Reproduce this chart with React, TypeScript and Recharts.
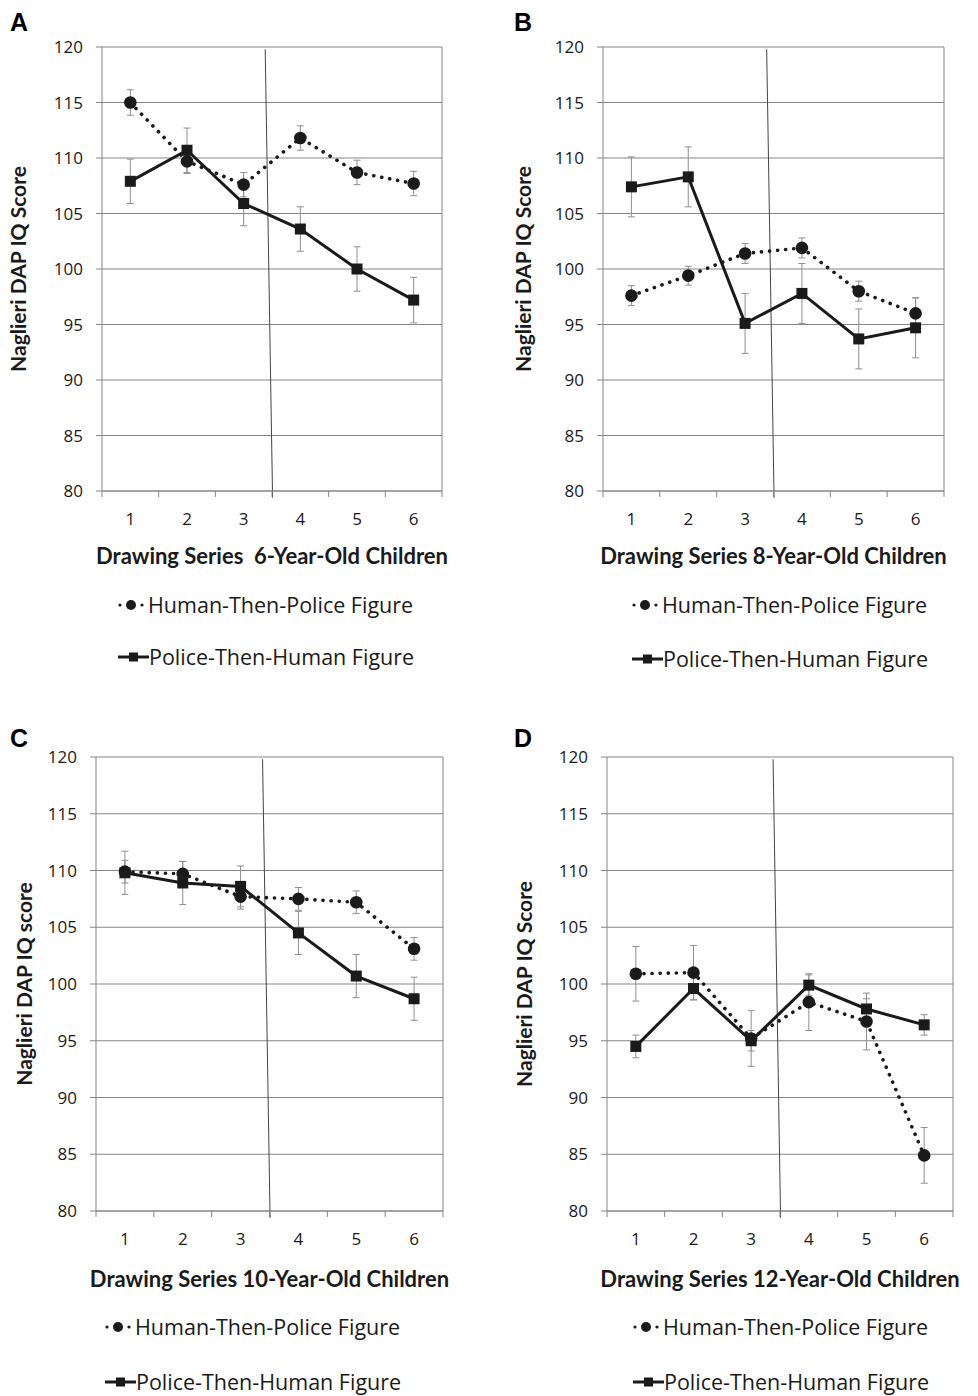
import React from "react";
import { LineChart, Line, XAxis, YAxis, CartesianGrid, ErrorBar, ReferenceLine, Legend } from "recharts";

const drawings = [1, 2, 3, 4, 5, 6];
const yTicks = [80, 85, 90, 95, 100, 105, 110, 115, 120];

// 6-year-olds
const humanA = [115.0, 109.7, 107.6, 111.8, 108.7, 107.7];
const humanErrA = [1.15, 1.1, 1.1, 1.1, 1.1, 1.1];
const policeA = [107.9, 110.7, 105.9, 103.6, 100.0, 97.2];
const policeErrA = [2.0, 2.0, 2.0, 2.0, 2.0, 2.05];

// 8-year-olds
const humanB = [97.6, 99.4, 101.4, 101.9, 98.0, 96.0];
const humanErrB = [0.9, 0.85, 0.9, 0.9, 0.9, 1.4];
const policeB = [107.4, 108.3, 95.1, 97.8, 93.7, 94.7];
const policeErrB = [2.7, 2.7, 2.7, 2.7, 2.7, 2.7];

// 10-year-olds
const humanC = [109.9, 109.7, 107.7, 107.5, 107.2, 103.1];
const humanErrC = [1.0, 1.1, 1.1, 1.0, 1.0, 1.0];
const policeC = [109.8, 108.9, 108.6, 104.5, 100.7, 98.7];
const policeErrC = [1.9, 1.9, 1.8, 1.9, 1.9, 1.9];

// 12-year-olds
const humanD = [100.9, 101.0, 95.2, 98.4, 96.7, 84.9];
const humanErrD = [2.4, 2.4, 2.45, 2.5, 2.5, 2.45];
const policeD = [94.5, 99.6, 95.0, 99.9, 97.8, 96.4];
const policeErrD = [1.0, 1.0, 0.9, 0.9, 0.9, 0.9];

// the hand-drawn divider between drawing 3 and 4
const dividerTop = { x: 3.38, y: 119.8 };
const dividerBottom = { x: 3.51, y: 79.4 };

const FONT = "'Open Sans', Lato, sans-serif";
const BOLD_FONT = "Lato, 'Open Sans', sans-serif";
const INK = "#1a1a1a";
const GRID = "#858585";
const ERR = "#8f8f8f";
const CHART_W = 489;
const CHART_H = 698;
const X_AXIS_H = 80;

const panels = [
  {
    letter: "A", title: "Drawing Series  6-Year-Old Children", yTitle: "Naglieri DAP IQ Score",
    human: humanA, humanErr: humanErrA, police: policeA, policeErr: policeErrA,
    left: 0, top: 0, plotLeft: 102, plotRight: 442, plotTop: 47, plotBottom: 491,
    yTitleX: 17, titleDy: 64, legendLeft: 117, legendTop: 592, rowGap: 52,
  },
  {
    letter: "B", title: "Drawing Series 8-Year-Old Children", yTitle: "Naglieri DAP IQ Score",
    human: humanB, humanErr: humanErrB, police: policeB, policeErr: policeErrB,
    left: 489, top: 0, plotLeft: 603, plotRight: 944, plotTop: 47, plotBottom: 491,
    yTitleX: 33, titleDy: 64, legendLeft: 142, legendTop: 592, rowGap: 54,
  },
  {
    letter: "C", title: "Drawing Series 10-Year-Old Children", yTitle: "Naglieri DAP IQ score",
    human: humanC, humanErr: humanErrC, police: policeC, policeErr: policeErrC,
    left: 0, top: 698, plotLeft: 96, plotRight: 443, plotTop: 757, plotBottom: 1211,
    yTitleX: 23, titleDy: 67, legendLeft: 104, legendTop: 616, rowGap: 55,
  },
  {
    letter: "D", title: "Drawing Series 12-Year-Old Children", yTitle: "Naglieri DAP IQ Score",
    human: humanD, humanErr: humanErrD, police: policeD, policeErr: policeErrD,
    left: 489, top: 698, plotLeft: 607, plotRight: 953, plotTop: 757, plotBottom: 1211,
    yTitleX: 34, titleDy: 67, legendLeft: 143, legendTop: 616, rowGap: 55,
  },
];

const xTicks = drawings.flatMap((d) => [d - 0.5, d]).concat(drawings[drawings.length - 1] + 0.5);

function XTick(props: any) {
  const { x, y, payload } = props;
  const v = payload.value;
  if (Number.isInteger(v)) {
    return (
      <text x={x} y={y + 27} textAnchor="middle" dominantBaseline="central" fontSize={17} fill={INK} fontFamily={FONT}>
        {v}
      </text>
    );
  }
  return <line x1={x} x2={x} y1={y} y2={y + 6} stroke={GRID} strokeWidth={1} />;
}

function XTitle(props: any) {
  const { viewBox, text, dy } = props;
  const vb = viewBox || { x: 0, y: 0, width: 0 };
  return (
    <text
      x={vb.x + vb.width / 2}
      y={vb.y + dy}
      textAnchor="middle"
      dominantBaseline="central"
      fontSize={22}
      fontWeight={700}
      fill={INK}
      fontFamily={BOLD_FONT}
      style={{ whiteSpace: "pre" }}
    >
      {text}
    </text>
  );
}

function YTitle(props: any) {
  const { viewBox, text, cx } = props;
  const vb = viewBox || { y: 0, height: 0 };
  const cy = vb.y + vb.height / 2;
  return (
    <text
      x={cx}
      y={cy}
      transform={`rotate(-90 ${cx} ${cy})`}
      textAnchor="middle"
      dominantBaseline="central"
      fontSize={21}
      fontWeight={700}
      fill={INK}
      fontFamily={BOLD_FONT}
    >
      {text}
    </text>
  );
}

const SquareDot = (p: any) => {
  if (p.cx == null || p.cy == null) return <g key={p.index} />;
  return <rect key={p.index} x={p.cx - 5.5} y={p.cy - 5.5} width={11} height={11} fill={INK} />;
};

const CircleDot = (p: any) => {
  if (p.cx == null || p.cy == null) return <g key={p.index} />;
  return <circle key={p.index} cx={p.cx} cy={p.cy} r={6.3} fill={INK} />;
};

function LegendBox({ rowGap }: { rowGap: number }) {
  const row = { display: "flex", alignItems: "center", height: 26, whiteSpace: "nowrap" as const };
  return (
    <div style={{ fontFamily: FONT, fontSize: 21.5, color: INK, lineHeight: "26px" }}>
      <div style={row}>
        <svg width={31} height={16} style={{ marginRight: 0 }}>
          <circle cx={3} cy={8} r={1.6} fill={INK} />
          <circle cx={14} cy={8} r={5} fill={INK} />
          <circle cx={25} cy={8} r={1.6} fill={INK} />
        </svg>
        <span>Human-Then-Police Figure</span>
      </div>
      <div style={{ ...row, marginTop: rowGap - 26 }}>
        <svg width={32} height={16}>
          <line x1={1} x2={32} y1={8} y2={8} stroke={INK} strokeWidth={3} />
          <rect x={12} y={3.5} width={9} height={9} fill={INK} />
        </svg>
        <span>Police-Then-Human Figure</span>
      </div>
    </div>
  );
}

function Panel({ cfg }: { cfg: (typeof panels)[number] }) {
  const rows = drawings.map((d, i) => ({
    drawing: d,
    human: cfg.human[i],
    humanErr: cfg.humanErr[i],
    police: cfg.police[i],
    policeErr: cfg.policeErr[i],
  }));
  const yAxisW = cfg.plotLeft - cfg.left;
  const margin = {
    top: cfg.plotTop - cfg.top,
    left: 0,
    right: CHART_W - (cfg.plotRight - cfg.left),
    bottom: CHART_H - (cfg.plotBottom - cfg.top) - X_AXIS_H,
  };
  return (
    <div style={{ position: "absolute", left: cfg.left, top: cfg.top, width: CHART_W, height: CHART_H }}>
      <div
        style={{
          position: "absolute",
          left: cfg.letter === "A" || cfg.letter === "C" ? 10 : 25,
          top: cfg.top === 0 ? 7 : 25,
          fontFamily: "'Liberation Sans', Arial, sans-serif",
          fontWeight: 700,
          fontSize: 25,
          lineHeight: "30px",
          color: "#000",
        }}
      >
        {cfg.letter}
      </div>
      <LineChart width={CHART_W} height={CHART_H} data={rows} margin={margin}>
        <CartesianGrid horizontal vertical={false} stroke={GRID} strokeWidth={1} />
        <XAxis
          dataKey="drawing"
          type="number"
          domain={[0.5, 6.5]}
          ticks={xTicks}
          interval={0}
          tickSize={0}
          tickMargin={0}
          tick={<XTick />}
          axisLine={{ stroke: GRID }}
          height={X_AXIS_H}
          label={<XTitle text={cfg.title} dy={cfg.titleDy} />}
        />
        <YAxis
          type="number"
          domain={[80, 120]}
          ticks={yTicks}
          interval={0}
          width={yAxisW}
          tickSize={6}
          tickMargin={13}
          tickLine={{ stroke: GRID }}
          axisLine={{ stroke: GRID }}
          tick={{ fill: INK, fontSize: 17, fontFamily: FONT }}
          label={<YTitle text={cfg.yTitle} cx={cfg.yTitleX} />}
        />
        <ReferenceLine x={6.5} stroke={GRID} strokeWidth={1} />
        <ReferenceLine segment={[dividerTop, dividerBottom]} stroke="#444" strokeWidth={1} ifOverflow="visible" />
        <Line
          dataKey="police"
          stroke={INK}
          strokeWidth={3}
          dot={SquareDot}
          activeDot={false}
          isAnimationActive={false}
        />
        <Line
          dataKey="human"
          stroke={INK}
          strokeWidth={3.6}
          strokeDasharray="0.1 8"
          strokeLinecap="round"
          dot={CircleDot}
          activeDot={false}
          isAnimationActive={false}
        />
        <Line dataKey="police" stroke="none" dot={false} activeDot={false} legendType="none" isAnimationActive={false}>
          <ErrorBar dataKey="policeErr" width={3.5} stroke={ERR} strokeWidth={1} direction="y" />
        </Line>
        <Line dataKey="human" stroke="none" dot={false} activeDot={false} legendType="none" isAnimationActive={false}>
          <ErrorBar dataKey="humanErr" width={3.5} stroke={ERR} strokeWidth={1} direction="y" />
        </Line>
        <Legend
          layout="horizontal"
          verticalAlign="middle"
          align="center"
          content={() => <LegendBox rowGap={cfg.rowGap} />}
          wrapperStyle={{ top: cfg.legendTop, left: cfg.legendLeft, width: "auto" }}
        />
      </LineChart>
    </div>
  );
}

export default function App() {
  return (
    <div style={{ position: "absolute", left: 0, top: 0, width: 978, height: 1396, background: "#fff" }}>
      {panels.map((p) => (
        <Panel key={p.letter} cfg={p} />
      ))}
    </div>
  );
}
